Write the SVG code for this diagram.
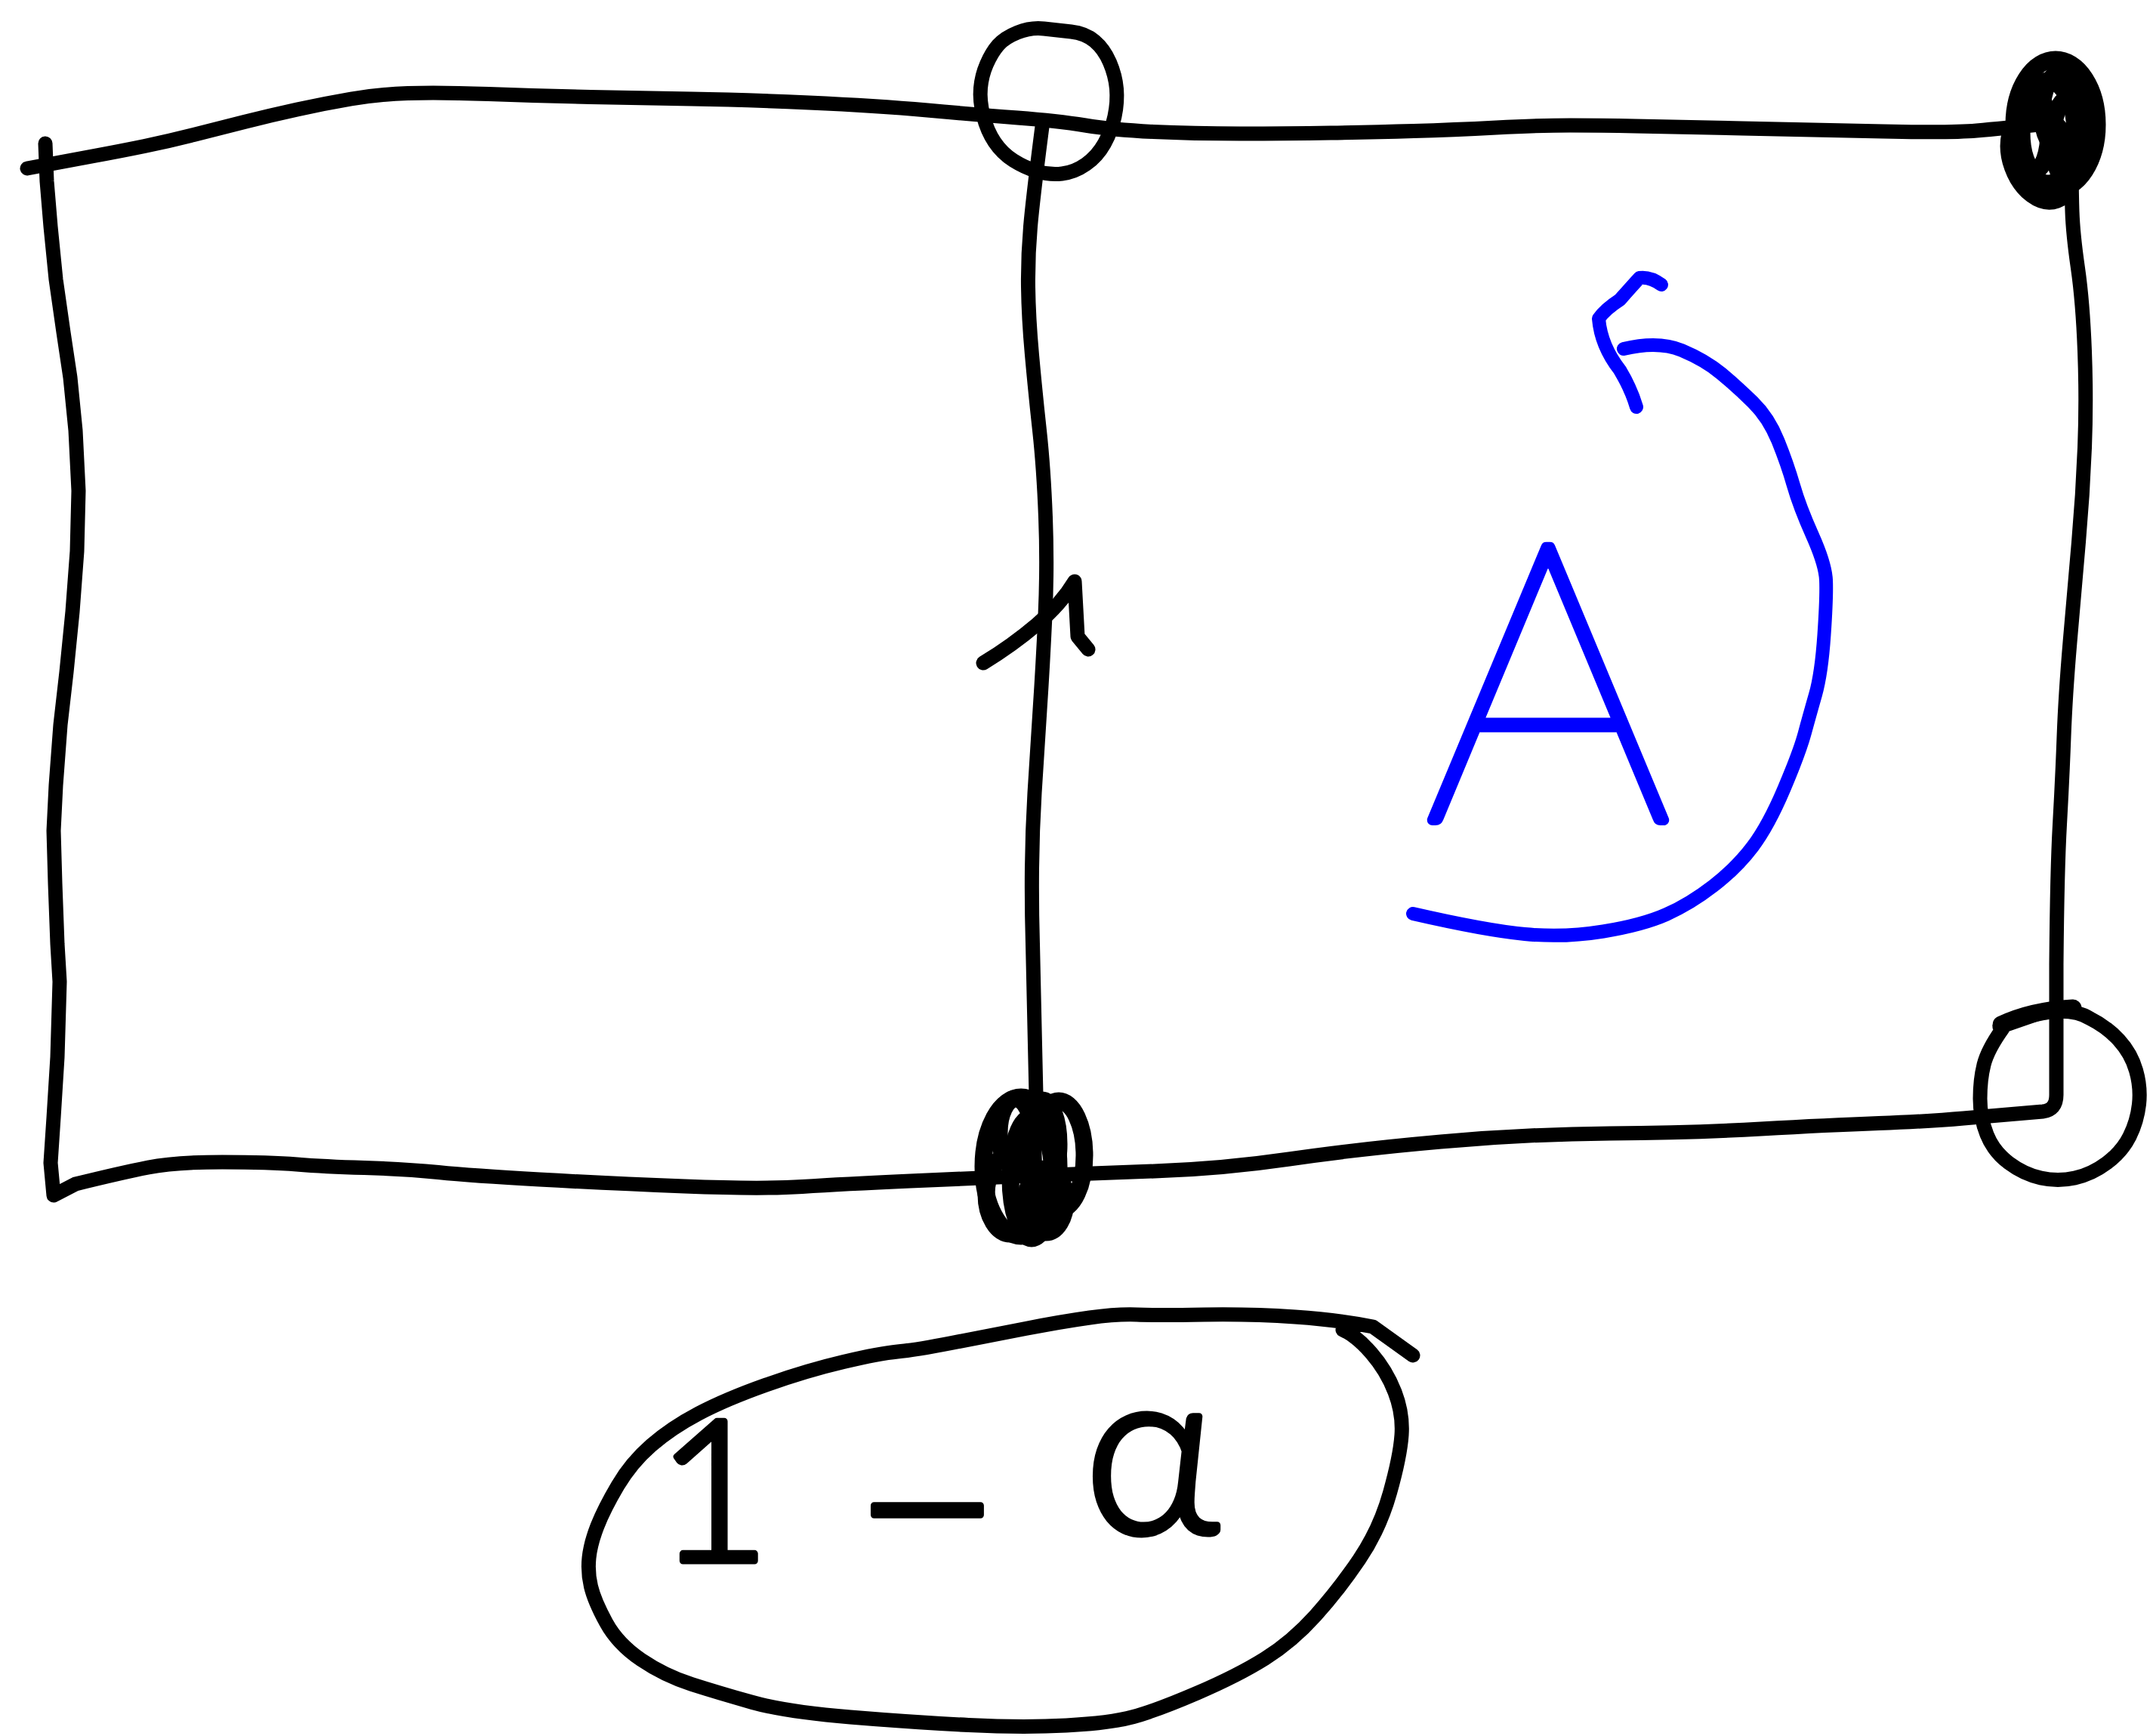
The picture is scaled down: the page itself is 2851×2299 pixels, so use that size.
<svg xmlns="http://www.w3.org/2000/svg" width="2851" height="2299" viewBox="0 0 2851 2299">
<style>
.ink{fill:none;stroke:#000;stroke-width:19;stroke-linecap:round;stroke-linejoin:round}
.blob{fill:none;stroke:#000;stroke-width:23;stroke-linecap:round;stroke-linejoin:round}
.blue{fill:none;stroke:#0000ff;stroke-width:18;stroke-linecap:round;stroke-linejoin:round}
.hand{font-family:Lato,"Liberation Sans",sans-serif;stroke-linejoin:round}
</style>
<rect width="2851" height="2299" fill="#fff"/>
<g id="connectors">
<g id="frame">
<path class="ink" d="M36,223 Q89,213 124.5,206.5 Q160,200 191.5,193.5 Q223,187 256.5,178.5 Q290,170 323.5,161.5 Q357,153 393.5,145 Q430,137 465,131 Q500,125 540,123.5 Q580,122 647,124.5 Q714,127 782,128.5 Q850,130 916,131 Q982,132 1071.5,136 Q1161,140 1228,146 Q1295,152 1347.5,156 Q1400,160 1437,166 Q1474,172 1527,174.5 Q1580,177 1642,177 Q1704,177 1762,176 Q1820,175 1872,173.5 Q1924,172 1981.5,169 Q2039,166 2079.5,166 Q2120,166 2165.5,167 Q2211,168 2307,170 Q2403,172 2493.5,174 Q2584,176 2617.5,173 Q2651,170 2700,165"/>
<path class="ink" d="M60,190 L62,240 L67,300 L74,370 L84,440 L93,500 L100,570 L104,650 L102,730 L96,810 L88,890 L80,960 L74,1040 L71,1100 L73,1170 L76,1250 L79,1300 L76,1400 L71,1480 L67,1540 L71,1583 L100,1568 Q161,1553 196.5,1546 Q232,1539 294.5,1539 Q357,1539 393,1542 Q429,1545 482.5,1546.5 Q536,1548 580.5,1552.5 Q625,1557 714.5,1562 Q804,1567 906.5,1571 Q1009,1575 1062.5,1571.5 Q1116,1568 1205.5,1564 Q1295,1560 1367,1557 Q1439,1554 1528.5,1551 Q1618,1548 1707,1535 Q1796,1522 1908,1512 Q2020,1502 2131.5,1501 Q2243,1500 2332,1495 Q2421,1490 2488,1487.5 Q2555,1485 2600,1481 Q2645,1477 2705,1472 Q2723,1470 2723,1450 L2723,1400 L2723,1278 Q2724,1154 2727.5,1092 Q2731,1030 2733,975.5 Q2735,921 2741,850.5 Q2747,780 2752.5,718 Q2758,656 2760.5,593 Q2763,530 2760.5,465 Q2758,400 2751.5,355 Q2745,310 2744,280 Q2743,250 2743,200"/>
</g>
<g id="divider">
<path class="ink" d="M1381,160 Q1368,260 1364.5,300 Q1361,340 1361.5,380 Q1362,420 1366.5,470 Q1371,520 1376.5,570 Q1382,620 1384.5,685 Q1387,750 1384,815 Q1381,880 1377,940 Q1373,1000 1370,1050 Q1367,1100 1366.5,1150 Q1366,1200 1367.5,1250 Q1369,1300 1372,1450"/>
</g>
<g id="tick">
<path class="ink" d="M1302,878 Q1340,855 1373,827 Q1405,800 1423,770 L1427,843 L1441,860"/>
</g>
<g id="rotation-arrow">
<path class="blue" d="M2150,462 Q2196,451 2227,464 Q2258,477 2279,494.5 Q2300,512 2321,532.5 Q2342,553 2354.5,584 Q2367,615 2375,643 Q2383,671 2400,709 Q2417,747 2418,768 Q2419,789 2415.5,840.5 Q2412,892 2404,920 Q2396,948 2389.5,972 Q2383,996 2362.5,1044.5 Q2342,1093 2321,1121 Q2300,1149 2269,1173 Q2238,1197 2206.5,1211 Q2175,1225 2123,1233.5 Q2071,1242 2019,1237 Q1967,1232 1871,1210"/>
<path class="blue" d="M2167,539 Q2160,515 2145,490 Q2120,458 2117,422 Q2125,410 2145,397 Q2160,380 2171,368 Q2185,366 2200,377"/>
</g>
</g>
<g id="node-top-circle">
<path class="ink" d="M1321.5,60 Q1330,50 1347.5,43 Q1365,36 1382.5,38 Q1400,40 1418.5,42 Q1437,44 1449.5,54.5 Q1462,65 1469.5,82.5 Q1477,100 1478.5,117.5 Q1480,135 1476,154 Q1472,173 1462.5,190 Q1453,207 1438,217.5 Q1423,228 1406.5,230 Q1390,232 1373.5,227 Q1357,222 1342,212.5 Q1327,203 1317,188 Q1307,173 1302,153 Q1297,133 1298.5,116.5 Q1300,100 1306.5,85 Q1313,70 1321.5,60"/>
</g>
<g id="node-top-right">
<ellipse class="blob" cx="2722" cy="165" rx="55" ry="86"/>
<ellipse class="blob" cx="2703" cy="208" rx="40" ry="60" transform="rotate(-20 2703 208)"/>
<ellipse class="blob" cx="2730" cy="148" rx="26" ry="52"/>
<ellipse class="blob" cx="2712" cy="175" rx="36" ry="68"/>
<ellipse class="blob" cx="2740" cy="185" rx="22" ry="55"/>
<ellipse class="blob" cx="2695" cy="175" rx="18" ry="50"/>
</g>
<g id="node-bottom-middle">
<ellipse class="blob" cx="1352" cy="1545" rx="50" ry="92"/>
<ellipse class="blob" cx="1402" cy="1530" rx="34" ry="72"/>
<ellipse class="blob" cx="1366" cy="1560" rx="28" ry="80"/>
<ellipse class="blob" cx="1338" cy="1582" rx="32" ry="52"/>
<ellipse class="blob" cx="1380" cy="1515" rx="22" ry="58"/>
<ellipse class="blob" cx="1345" cy="1500" rx="22" ry="45"/>
<ellipse class="blob" cx="1385" cy="1590" rx="26" ry="42"/>
</g>
<g id="node-bottom-right">
<path class="ink" d="M2648,1360 L2700,1342 Q2745,1334 2768,1349 Q2790,1360 2806,1377.5 Q2822,1395 2828.5,1417.5 Q2835,1440 2832.5,1462.5 Q2830,1485 2820,1505 Q2810,1525 2790,1540 Q2770,1555 2747.5,1560 Q2725,1565 2702.5,1560 Q2680,1555 2660,1540 Q2640,1525 2631,1502.5 Q2622,1480 2622,1455 Q2622,1430 2627,1410 Q2632,1390 2652,1362"/>
<path class="blob" d="M2650,1357 Q2690,1338 2745,1335"/>
</g>
<g id="node-A">
<text class="hand" x="2050" y="1086" font-size="516" font-weight="200" fill="#0000ff" stroke="#0000ff" stroke-width="14" text-anchor="middle">A</text>
</g>
<g id="node-one-minus-alpha">
<path class="ink" d="M1871,1795 L1818,1757 Q1773,1748 1715,1744 Q1657,1740 1594.5,1741 Q1532,1742 1505.5,1741 Q1479,1740 1443,1745 Q1407,1750 1358,1759.5 Q1309,1769 1260,1778.5 Q1211,1788 1188.5,1790 Q1166,1792 1117,1803.5 Q1068,1815 1014.5,1834 Q961,1853 925,1872 Q889,1891 862.5,1914 Q836,1937 818,1967.5 Q800,1998 791,2021 Q782,2044 780,2063 Q778,2082 782.5,2101 Q787,2120 802.5,2148.5 Q818,2177 849,2198 Q880,2219 916,2230.5 Q952,2242 996.5,2254.5 Q1041,2267 1126,2274 Q1211,2281 1282.5,2284.5 Q1354,2288 1412,2285 Q1470,2282 1501,2273.5 Q1532,2265 1585.5,2242 Q1639,2219 1675,2196.5 Q1711,2174 1742,2139.5 Q1773,2105 1800,2065 Q1827,2025 1840.5,1977 Q1854,1929 1856,1900.5 Q1858,1872 1847,1843.5 Q1836,1815 1816,1792 Q1796,1769 1778,1761"/>
<text class="hand" font-weight="300" fill="#000" stroke="#000" stroke-width="9"><tspan x="945" y="2067" font-size="260" text-anchor="middle">1</tspan><tspan x="1228" y="2114" font-size="340" text-anchor="middle">−</tspan><tspan x="1525" y="2030" font-size="310" text-anchor="middle">α</tspan></text>
</g>
</svg>
